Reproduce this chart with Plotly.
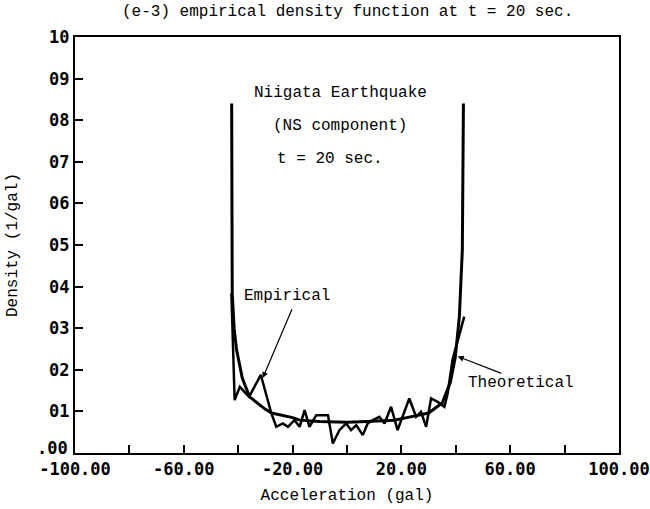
import plotly.graph_objects as go

# Empirical density of the Niigata record (NS component) at t = 20 s
emp_x = [-42.5, -41.3, -39.4, -36.0, -31.7, -27.8, -26.0, -23.6, -21.7, -19.3,
         -17.4, -15.6, -13.8, -11.3, -7.0, -5.2, -2.8, -0.3, 1.5, 3.4,
         5.8, 7.6, 9.5, 11.9, 13.8, 16.2, 18.6, 22.9, 25.4, 27.2,
         29.1, 30.9, 33.3, 35.8, 37.0, 38.8, 43.1]
emp_y = [0.0384, 0.0127, 0.0159, 0.0135, 0.0188, 0.0095, 0.0063, 0.0071, 0.0063, 0.0079,
         0.0063, 0.0103, 0.0063, 0.0091, 0.0091, 0.0023, 0.0055, 0.0071, 0.0055, 0.0067,
         0.0043, 0.0071, 0.0079, 0.0087, 0.0071, 0.0111, 0.0055, 0.0131, 0.0087, 0.0099,
         0.0063, 0.0131, 0.0123, 0.0111, 0.0143, 0.0224, 0.0328]

# Theoretical density
theory_x = [-42.4, -42.3, -42.2, -41.5, -40.6, -38.5, -35.8, -30.0, -27.7, -20.0,
            -17.4, -10.0, -5.3, 0.0, 5.0, 10.0, 17.4, 22.0, 30.0, 35.0,
            38.0, 39.8, 41.3, 42.4, 42.8]
theory_y = [0.084, 0.060, 0.0385, 0.030, 0.0248, 0.018, 0.0135, 0.0105, 0.0096, 0.0085,
            0.0079, 0.0076, 0.0075, 0.0074, 0.0075, 0.0076, 0.0079, 0.0085, 0.0096, 0.012,
            0.017, 0.023, 0.0327, 0.0488, 0.084]

x_ticks = [-100, -80, -60, -40, -20, 0, 20, 40, 60, 80, 100]
x_labels = ["-100.00", "", "-60.00", "", "-20.00", "", "20.00", "", "60.00", "", "100.00"]
y_ticks = [0.00, 0.01, 0.02, 0.03, 0.04, 0.05, 0.06, 0.07, 0.08, 0.09, 0.10]
# the origin label is drawn separately, lifted just above the x labels
y_labels = ["", "01", "02", "03", "04", "05", "06", "07", "08", "09", "10"]
y_origin_label = ".00"

MONO = "Liberation Mono, Courier New, monospace"
BOLD = "DejaVu Sans Mono, monospace"

fig = go.Figure()
fig.add_trace(go.Scatter(x=theory_x, y=theory_y, mode="lines",
                         line=dict(color="black", width=3), showlegend=False))
fig.add_trace(go.Scatter(x=emp_x, y=emp_y, mode="lines",
                         line=dict(color="black", width=2.5), showlegend=False))

annotations = [
    dict(x=0.5, y=1, xref="paper", yref="paper", xanchor="center", yanchor="bottom",
         yshift=14, text="(e-3) empirical density function at t = 20 sec.",
         showarrow=False, font=dict(family=MONO, size=16, color="black")),
    dict(x=0, y=0, xref="paper", yref="y", xanchor="right", yanchor="bottom",
         xshift=-5, yshift=-7, text=y_origin_label, showarrow=False,
         font=dict(family=BOLD, size=17, color="black", weight="bold")),
    dict(x=-2.4, y=0.0865, text="Niigata Earthquake", showarrow=False,
         font=dict(family=MONO, size=16, color="black")),
    dict(x=-2.75, y=0.0786, text="(NS component)", showarrow=False,
         font=dict(family=MONO, size=16, color="black")),
    dict(x=-6.1, y=0.0707, text="t = 20 sec.", showarrow=False,
         font=dict(family=MONO, size=16, color="black")),
    dict(x=-22.0, y=0.0377, text="Empirical", showarrow=False,
         font=dict(family=MONO, size=16, color="black")),
    dict(x=64.0, y=0.0168, text="Theoretical", showarrow=False,
         font=dict(family=MONO, size=16, color="black")),
    # leader arrows
    dict(x=-31.0, y=0.0180, ax=-20.0, ay=0.0349, axref="x", ayref="y", text="",
         showarrow=True, arrowhead=2, arrowsize=1, arrowwidth=1.2, arrowcolor="black"),
    dict(x=40.7, y=0.0232, ax=57.3, ay=0.0190, axref="x", ayref="y", text="",
         showarrow=True, arrowhead=2, arrowsize=1, arrowwidth=1.2, arrowcolor="black"),
]

fig.update_layout(
    width=650, height=509,
    margin=dict(l=75, r=31, t=37, b=56),
    paper_bgcolor="white", plot_bgcolor="white",
    annotations=annotations,
    xaxis=dict(range=[-100, 100], tickvals=x_ticks, ticktext=x_labels,
               automargin=False,
               ticks="inside", ticklen=8, tickwidth=2, tickcolor="black",
               showline=True, linecolor="black", linewidth=2, mirror=True,
               showgrid=False, zeroline=False,
               tickfont=dict(family=BOLD, size=17, color="black", weight="bold"),
               title=dict(text="Acceleration (gal)", standoff=10,
                          font=dict(family=MONO, size=16, color="black"))),
    yaxis=dict(range=[0, 0.10], tickvals=y_ticks, ticktext=y_labels,
               automargin=False,
               ticks="inside", ticklen=8, tickwidth=2, tickcolor="black",
               showline=True, linecolor="black", linewidth=2, mirror=True,
               showgrid=False, zeroline=False,
               tickfont=dict(family=BOLD, size=17, color="black", weight="bold"),
               title=dict(text="Density (1/gal)", standoff=28,
                          font=dict(family=MONO, size=16, color="black"))),
)

fig.write_html("out.html")
